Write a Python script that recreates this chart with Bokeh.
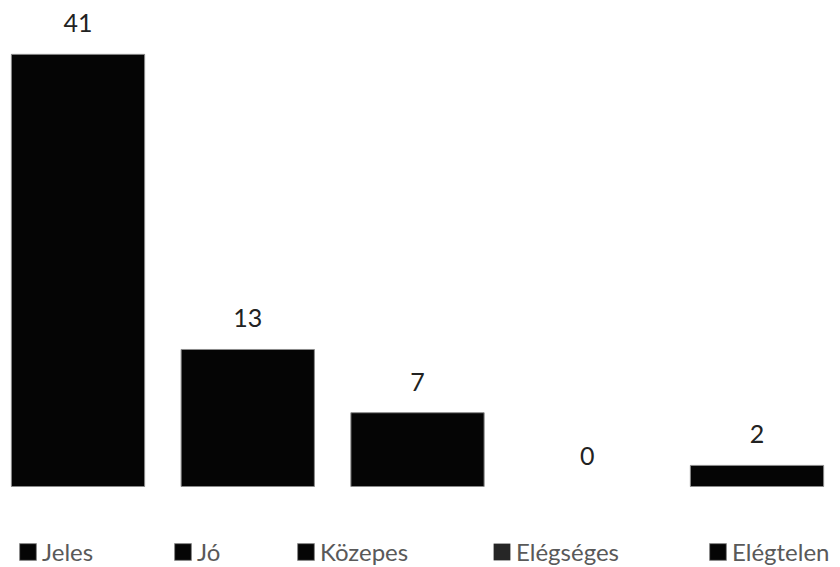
from bokeh.plotting import figure
from bokeh.models import ColumnDataSource, Range1d, Legend, LegendItem
from bokeh.core.properties import value
from bokeh.embed import file_html
from bokeh.resources import INLINE

# Grade distribution
grades = ["Jeles", "Jó", "Közepes", "Elégséges", "Elégtelen"]
counts = [41, 13, 7, 0, 2]
colors = ["#050505", "#050505", "#050505", "#262626", "#050505"]

FONT = "Lato"

source = ColumnDataSource(dict(
    x=list(range(len(grades))),
    grade=grades,
    count=counts,
    label=[str(c) for c in counts],
    color=colors,
    edge_alpha=[0.0 if c == 0 else 1.0 for c in counts],
))

p = figure(
    width=840, height=567,
    x_range=Range1d(-0.4566, 4.4919),
    y_range=Range1d(-7.685, 46.11),
    output_backend="svg",
    toolbar_location=None,
    min_border=0,
)
p.axis.visible = False
p.grid.visible = False
p.outline_line_color = None
p.background_fill_color = "white"
p.border_fill_color = "white"

bars = p.vbar(x="x", top="count", width=0.785, bottom=0, source=source,
              fill_color="color", line_color="#8a8a8a", line_alpha="edge_alpha",
              line_width=1)

p.text(x="x", y="count", text="label", source=source,
       text_align="center", text_baseline="alphabetic", y_offset=-31,
       text_font=value(FONT), text_font_size="25px", text_color="#222222")

# One legend box per grade, laid out along the bottom edge
legend_left = [17, 172, 295, 491, 707]
for i, g in enumerate(grades):
    legend = Legend(
        items=[LegendItem(label=g, renderers=[bars], index=i)],
        orientation="horizontal", location=(legend_left[i], 1),
        glyph_width=21, glyph_height=21, label_standoff=4, label_height=21,
        padding=0, margin=0, border_line_color=None, background_fill_alpha=0,
        label_text_font=FONT, label_text_font_size="24px", label_text_color="#595959",
    )
    p.add_layout(legend, "center")

open("out.html", "w").write(file_html(p, INLINE))
